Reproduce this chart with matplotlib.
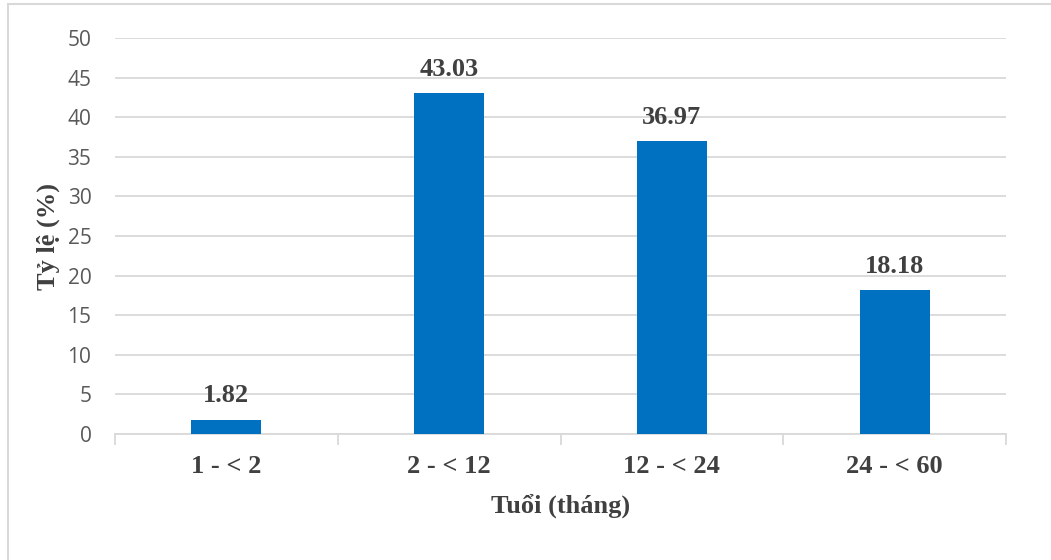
import matplotlib
matplotlib.use("Agg")
import matplotlib.pyplot as plt
from matplotlib.lines import Line2D

categories = ["1 - < 2", "2 - < 12", "12 - < 24", "24 - < 60"]
values = [1.82, 43.03, 36.97, 18.18]
yticks = [0, 5, 10, 15, 20, 25, 30, 35, 40, 45, 50]

W, H = 1051, 560
fig = plt.figure(figsize=(W / 100, H / 100), dpi=100)
ax = fig.add_axes([115 / W, 1 - 434 / H, (1006 - 115) / W, (434 - 38) / H])

serif = ["Liberation Serif", "DejaVu Serif"]
txt = "#404040"

x = list(range(len(categories)))
ax.bar(x, values, width=0.315, color="#0070C0", zorder=3)
ax.set_xlim(-0.5, len(categories) - 0.5)
ax.set_ylim(0, 50)
ax.set_yticks(yticks)
ax.set_yticklabels([str(v) for v in yticks], fontfamily="Open Sans", fontsize=15, color="#595959")
ax.grid(axis="y", color="#D9D9D9", linewidth=1.3, zorder=0)
ax.set_axisbelow(True)

ax.set_xticks([i - 0.5 for i in range(len(categories) + 1)], minor=False)
ax.set_xticklabels([])
ax.tick_params(axis="x", which="major", length=8, color="#D9D9D9", width=1.3)
ax.set_xticks(x, minor=True)
ax.set_xticklabels(categories, minor=True, fontfamily=serif, fontweight="bold", fontsize=19, color=txt)
ax.tick_params(axis="x", which="minor", length=0, pad=15)
ax.tick_params(axis="y", length=0, pad=17)

for s in ["top", "right", "left"]:
    ax.spines[s].set_visible(False)
ax.spines["bottom"].set_color("#D9D9D9")
ax.spines["bottom"].set_linewidth(1.3)

for xi, v in zip(x, values):
    ax.annotate(f"{v:.2f}", (xi, v), xytext=(0, 9), textcoords="offset points",
                ha="center", va="bottom", fontfamily=serif, fontweight="bold",
                fontsize=19, color=txt)

ax.set_xlabel("Tuổi (tháng)", fontfamily=serif, fontweight="bold", fontsize=19, color=txt, labelpad=11)
ax.set_ylabel("Tỷ lệ (%)", fontfamily=serif, fontweight="bold", fontsize=19, color=txt, labelpad=5)

fig.add_artist(Line2D([8 / W, 8 / W], [0, 1 - 4 / H], transform=fig.transFigure, color="#D9D9D9", linewidth=1.5))
fig.add_artist(Line2D([8 / W, 1], [1 - 4 / H, 1 - 4 / H], transform=fig.transFigure, color="#D9D9D9", linewidth=1.5))

fig.savefig("out.png", dpi=100)
